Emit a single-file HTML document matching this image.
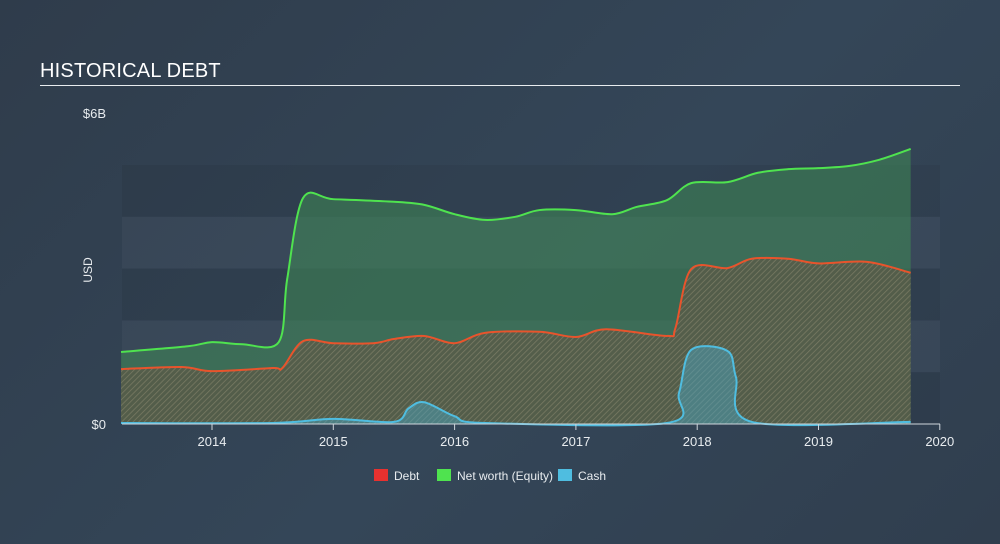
<!DOCTYPE html>
<html><head><meta charset="utf-8">
<style>
html,body{margin:0;padding:0}
body{width:1000px;height:544px;background:linear-gradient(135deg,#2f3c4b 0%,#344658 55%,#303e4e 100%);font-family:"Liberation Sans",sans-serif;overflow:hidden;position:relative}
#title{position:absolute;left:40px;top:60px;color:#fff;font-size:20px;letter-spacing:0.2px}
#rule{position:absolute;left:40px;top:85px;width:920px;height:1px;background:#e8ecef}
svg{position:absolute;left:0;top:0}
</style></head><body>
<div id="title">HISTORICAL DEBT</div>
<div id="rule"></div>
<svg id="chart" width="1000" height="544">
<defs>
<pattern id="hatch" width="4" height="4" patternUnits="userSpaceOnUse" patternTransform="rotate(45)">
<rect width="4" height="4" fill="#5a5a48"/>
<line x1="0" y1="0" x2="0" y2="4" stroke="#8a8068" stroke-width="1.5"/>
</pattern>
</defs>
</svg>
<script>
const years=[2014,2015,2016,2017,2018,2019,2020];
const equityT=[2013.25,2013.8,2014.0,2014.25,2014.55,2014.62,2014.75,2015.0,2015.5,2015.75,2016.0,2016.25,2016.5,2016.7,2017.0,2017.3,2017.5,2017.75,2017.95,2018.25,2018.5,2018.75,2019.0,2019.25,2019.5,2019.76];
const equityV=[1.39,1.5,1.58,1.54,1.58,2.8,4.36,4.34,4.29,4.23,4.05,3.94,4.0,4.13,4.13,4.05,4.19,4.32,4.65,4.67,4.85,4.92,4.94,4.98,5.1,5.31];
const debtT=[2013.25,2013.75,2014.0,2014.5,2014.58,2014.75,2015.0,2015.33,2015.5,2015.75,2016.0,2016.25,2016.7,2017.0,2017.25,2017.75,2017.82,2017.95,2018.25,2018.45,2018.75,2019.0,2019.4,2019.76];
const debtV=[1.06,1.1,1.02,1.08,1.08,1.6,1.56,1.56,1.64,1.7,1.56,1.76,1.78,1.68,1.83,1.7,1.85,2.99,3.01,3.19,3.19,3.1,3.13,2.92];
const cashT=[2013.25,2014.5,2015.0,2015.5,2015.62,2015.75,2016.0,2016.25,2017.75,2017.85,2017.95,2018.25,2018.32,2018.45,2019.76];
const cashV=[0.02,0.02,0.1,0.04,0.3,0.42,0.15,0.02,0.02,0.6,1.43,1.41,0.9,0.04,0.04];
const X=t=>212+(t-2014)*121.3;
const Y=v=>424-v*51.8;
const svg=document.getElementById('chart');
const NS='http://www.w3.org/2000/svg';
function mk(tag,attrs){const e=document.createElementNS(NS,tag);for(const k in attrs)e.setAttribute(k,attrs[k]);svg.appendChild(e);return e;}
for(let i=0;i<5;i++){
 const b=mk('rect',{x:122,y:Y(i+1),width:818,height:51.8,fill:i%2?'rgba(255,255,255,0.035)':'rgba(0,0,0,0.06)'});
 
 
}
function smooth(T,V){
 const p=T.map((t,i)=>[X(t),Y(V[i])]);
 let d='M'+p[0][0]+','+p[0][1];
 const k=0.16;
 for(let i=1;i<p.length;i++){
  const p0=p[Math.max(0,i-2)],a=p[i-1],b=p[i],p3=p[Math.min(p.length-1,i+1)];
  const c1x=a[0]+(b[0]-p0[0])*k,c1y=a[1]+(b[1]-p0[1])*k;
  const c2x=b[0]-(p3[0]-a[0])*k,c2y=b[1]-(p3[1]-a[1])*k;
  d+=` C${c1x},${c1y} ${c2x},${c2y} ${b[0]},${b[1]}`;
 }
 return {d,p};
}
function series(T,V,fill,stroke,name,op){
 const s=smooth(T,V);
 const area=mk('path',{d:s.d+` L${s.p[s.p.length-1][0]},424 L${s.p[0][0]},424Z`,fill:fill,'fill-opacity':op});
 
 
 const line=mk('path',{d:s.d,fill:'none',stroke:stroke,'stroke-width':2});
 
 
}
series(equityT,equityV,'#3f8a55','#4fe34f','equity',0.55);
series(debtT,debtV,'url(#hatch)','#e8542c','debt',0.8);
series(cashT,cashV,'#4aa8c8','#4fbde0','cash',0.45);
const ax=mk('line',{x1:122,y1:424,x2:940,y2:424,stroke:'#cfd6dc','stroke-width':1});


years.forEach(y=>{
 const tk=mk('line',{x1:X(y),y1:424,x2:X(y),y2:430,stroke:'#cfd6dc'});
 
 
 const t=mk('text',{x:X(y),y:446,fill:'#e8ecef','font-size':13,'text-anchor':'middle'});
 t.textContent=y;
 
 
});
const yl=[['$6B',118],['$0',429]];
yl.forEach(([s,yy])=>{const t=mk('text',{x:106,y:yy,fill:'#e8ecef','font-size':13,'text-anchor':'end'});t.textContent=s;
 
 });
const yt=mk('text',{x:92,y:270,fill:'#e8ecef','font-size':12,'text-anchor':'middle',transform:'rotate(-90 92 270)'});
yt.textContent='USD';


const legend=[['Debt','#e8312f',374],['Net worth (Equity)','#4fe34f',437],['Cash','#4fbde0',558]];
legend.forEach(([n,c,x])=>{
 const g=document.createElementNS(NS,'g');svg.appendChild(g);
 
 
 const r=document.createElementNS(NS,'rect');r.setAttribute('x',x);r.setAttribute('y',469);r.setAttribute('width',14);r.setAttribute('height',12);r.setAttribute('fill',c);g.appendChild(r);
 const t=document.createElementNS(NS,'text');t.setAttribute('x',x+20);t.setAttribute('y',480);t.setAttribute('fill','#e8ecef');t.setAttribute('font-size',12);t.textContent=n;g.appendChild(t);
});
</script>
</body></html>
